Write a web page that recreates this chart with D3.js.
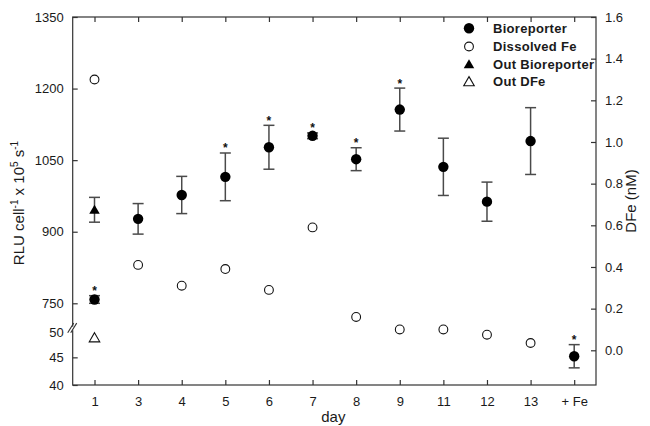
<!DOCTYPE html>
<html><head><meta charset="utf-8">
<script src="https://cdn.jsdelivr.net/npm/d3@7"></script>
<style>
body{margin:0;background:#fff;}
svg{display:block;font-family:"Liberation Sans",Arial,sans-serif;}
</style></head>
<body><svg id="c" width="650" height="426"></svg>
<script>
// ---- data ----
const days = ["1","3","4","5","6","7","8","9","11","12","13","+ Fe"];
const bioreporter    = [758, 927, 977, 1015, 1077, 1101, 1052, 1156, 1036, 963, 1090, 45.2];
const bioreporterErr = [8, 32, 39, 50, 46, 6, 24, 45, 60, 41, 70, 2.1];
const significant    = [true,false,false,true,true,true,true,true,false,false,false,true];
const dissolvedFe    = [1.30, 0.41, 0.31, 0.39, 0.29, 0.59, 0.16, 0.10, 0.10, 0.075, 0.035, null];
const outBioDays = ["1"], outBioValues = [946], outBioErr = [26];
const outDFeDays = ["1"], outDFeValues = [0.06];
const leftUpperTicks = [750, 900, 1050, 1200, 1350];
const leftLowerTicks = [40, 45, 50];
const rightTicks = [0, 0.2, 0.4, 0.6, 0.8, 1.0, 1.2, 1.4, 1.6];
const legendLabels = ["Bioreporter","Dissolved Fe","Out Bioreporter","Out DFe"];

// ---- layout ----
const L = 72.7, R = 596, T = 17, B = 385;
const svg = d3.select("#c");
const x = d3.scalePoint().domain(days).range([L, R]).padding(0.5);
const yUp = d3.scaleLinear().domain([750, 1350]).range([303.3, T]);
const yLow = d3.scaleLinear().domain([40, 50]).range([B, 329.7]);
const yL = v => v <= 50 ? yLow(v) : yUp(v);
const yR = d3.scaleLinear().domain([0, 1.6]).range([350.3, T]);

const axisColor = "#333", textColor = "#1a1a1a";
const tickFont = 13;

// frame
svg.append("rect").attr("x", L).attr("y", T).attr("width", R - L).attr("height", B - T)
  .attr("fill", "none").attr("stroke", axisColor).attr("stroke-width", 1.2);

// bottom & top axes (inward ticks)
const gB = svg.append("g").attr("transform", `translate(0,${B})`)
  .call(d3.axisBottom(x).tickSize(-5).tickPadding(12));
const gT = svg.append("g").attr("transform", `translate(0,${T})`)
  .call(d3.axisTop(x).tickSize(-5).tickFormat(""));
// left axes
const gLU = svg.append("g").attr("transform", `translate(${L},0)`)
  .call(d3.axisLeft(yUp).tickValues(leftUpperTicks).tickSize(-5).tickPadding(9).tickFormat(d3.format("d")));
const gLL = svg.append("g").attr("transform", `translate(${L},0)`)
  .call(d3.axisLeft(yLow).tickValues(leftLowerTicks).tickSize(-5).tickPadding(9).tickFormat(d3.format("d")));
gLL.selectAll(".tick").filter(d => d === 50).select("line").remove();
// right axis
const gR = svg.append("g").attr("transform", `translate(${R},0)`)
  .call(d3.axisRight(yR).tickValues(rightTicks).tickSize(-5).tickPadding(9).tickFormat(d3.format(".1f")));

[gB, gT, gLU, gLL, gR].forEach(g => {
  g.select(".domain").remove();
  g.selectAll(".tick line").attr("stroke", axisColor).attr("stroke-width", 1.2);
  g.selectAll(".tick text").attr("fill", textColor).attr("font-size", tickFont)
    .attr("font-family", '"Liberation Sans",Arial,sans-serif');
});
gLL.selectAll(".tick").filter(d => d === 50).select("text").attr("dy", "0.55em");

// axis break on left axis
const brY0 = yUp(700), brY1 = yLow(50);
svg.append("rect").attr("x", L - 2).attr("y", brY0 - 0.5).attr("width", 4).attr("height", brY1 - brY0 + 1).attr("fill", "#fff");
[0, 3].forEach(o => {
  svg.append("line").attr("x1", L - 4 + o - 1).attr("y1", brY1 + 3).attr("x2", L + 2 + o - 1).attr("y2", brY0 - 4)
    .attr("stroke", axisColor).attr("stroke-width", 1.1);
});

// axis titles
const lt = svg.append("text").attr("transform", "translate(24,203) rotate(-90)")
  .attr("text-anchor", "middle").attr("font-size", 15).attr("fill", textColor);
lt.append("tspan").text("RLU cell");
lt.append("tspan").attr("font-size", 10).attr("dy", -6).text("-1");
lt.append("tspan").attr("dy", 6).text(" x 10");
lt.append("tspan").attr("font-size", 10).attr("dy", -6).text("5");
lt.append("tspan").attr("dy", 6).text(" s");
lt.append("tspan").attr("font-size", 10).attr("dy", -6).text("-1");

svg.append("text").attr("transform", "translate(636,201) rotate(-90)")
  .attr("text-anchor", "middle").attr("font-size", 15).attr("fill", textColor).text("DFe (nM)");
svg.append("text").attr("x", (L + R) / 2 - 1).attr("y", 422).attr("text-anchor", "middle")
  .attr("font-size", 15).attr("fill", textColor).text("day");

// markers helpers
const tri = d3.symbol().type(d3.symbolTriangle).size(48);
const errColor = "#4a4a4a";
function errBar(g, cx, v, e) {
  const y1 = yL(v + e), y2 = yL(v - e);
  g.append("line").attr("x1", cx).attr("x2", cx).attr("y1", y1).attr("y2", y2).attr("stroke", errColor).attr("stroke-width", 1.5);
  [y1, y2].forEach(yy => g.append("line").attr("x1", cx - 5.5).attr("x2", cx + 5.5).attr("y1", yy).attr("y2", yy)
    .attr("stroke", errColor).attr("stroke-width", 1.5));
}

const gD = svg.append("g");
// dissolved Fe (open circles)
days.forEach((d, i) => {
  if (dissolvedFe[i] == null) return;
  gD.append("circle").attr("cx", x(d)).attr("cy", yR(dissolvedFe[i])).attr("r", 4.4)
    .attr("fill", "#fff").attr("stroke", "#111").attr("stroke-width", 1.1);
});
// out DFe (open triangle)
outDFeDays.forEach((d, i) => {
  gD.append("path").attr("d", tri).attr("transform", `translate(${x(d)},${yR(outDFeValues[i]) + 1})`)
    .attr("fill", "#fff").attr("stroke", "#111").attr("stroke-width", 1.1);
});
// out bioreporter (filled triangle + error)
outBioDays.forEach((d, i) => {
  errBar(gD, x(d), outBioValues[i], outBioErr[i]);
  gD.append("path").attr("d", tri).attr("transform", `translate(${x(d)},${yL(outBioValues[i]) + 1})`).attr("fill", "#000");
});
// bioreporter
days.forEach((d, i) => {
  errBar(gD, x(d), bioreporter[i], bioreporterErr[i]);
  gD.append("circle").attr("cx", x(d)).attr("cy", yL(bioreporter[i])).attr("r", 5.2).attr("fill", "#000");
  if (significant[i]) {
    gD.append("text").attr("x", x(d)).attr("y", yL(bioreporter[i] + bioreporterErr[i]) - 0.5)
      .attr("text-anchor", "middle").attr("font-size", 12).attr("font-weight", "bold").attr("fill", "#111").text("*");
  }
});

// legend
const legY = [28.3, 46.5, 64.3, 81.7];
const lg = svg.append("g");
legendLabels.forEach((lab, i) => {
  const cx = 469, cy = legY[i];
  if (i === 0) lg.append("circle").attr("cx", cx).attr("cy", cy).attr("r", 5.2).attr("fill", "#000");
  if (i === 1) lg.append("circle").attr("cx", cx).attr("cy", cy).attr("r", 4.4).attr("fill", "#fff").attr("stroke", "#111").attr("stroke-width", 1.1);
  if (i === 2) lg.append("path").attr("d", tri).attr("transform", `translate(${cx},${cy + 1})`).attr("fill", "#000");
  if (i === 3) lg.append("path").attr("d", tri).attr("transform", `translate(${cx},${cy + 1})`).attr("fill", "#fff").attr("stroke", "#111").attr("stroke-width", 1.1);
  lg.append("text").attr("x", 493).attr("y", cy + 4.5).attr("font-size", 13).attr("font-weight", "bold")
    .attr("letter-spacing", 0.3).attr("fill", textColor).text(lab);
});
</script></body></html>
